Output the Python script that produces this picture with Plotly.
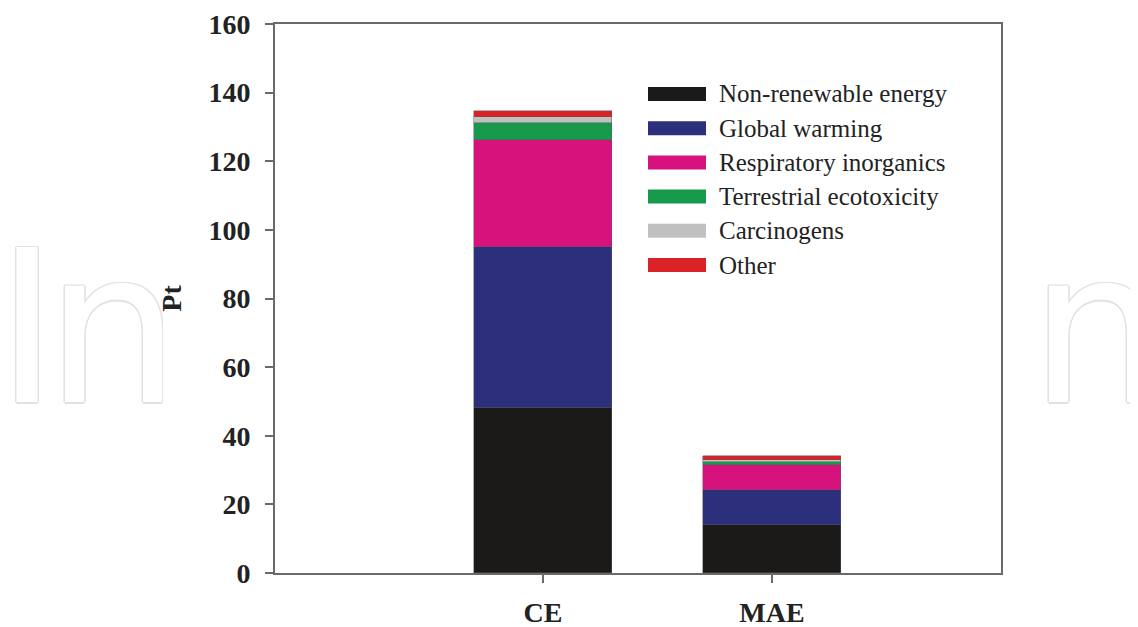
import plotly.graph_objects as go

categories = ["CE", "MAE"]
series_names = ["Non-renewable energy", "Global warming", "Respiratory inorganics",
                "Terrestrial ecotoxicity", "Carcinogens", "Other"]
non_renewable = [48.1, 14.0]
global_warming = [46.9, 10.2]
respiratory = [31.2, 7.3]
terrestrial = [4.9, 0.9]
carcinogens = [1.8, 0.4]
other = [1.8, 1.3]
series_values = [non_renewable, global_warming, respiratory, terrestrial, carcinogens, other]
colors = ["#1b1a19", "#2b2f7c", "#d7127d", "#16994b", "#c0c0c0", "#db2226"]
y_ticks = [0, 20, 40, 60, 80, 100, 120, 140, 160]

FONT = "Liberation Serif"
OFF = 8  # default page body margin
FIG_W, FIG_H = 1138 - OFF, 627 - OFF

fig = go.Figure()
x_idx = list(range(len(categories)))
for name, vals, col in zip(series_names, series_values, colors):
    fig.add_trace(go.Bar(x=x_idx, y=vals, name=name, width=0.6,
                         marker=dict(color=col, line=dict(color="rgba(90,90,90,0.6)", width=0.8)),
                         showlegend=False))

# plot area in screen pixels
L, R, T, B = 275, 1001, 24, 573
W, H = R - L, B - T
def px(x):
    return (x - L) / W
def py(y):
    return (B - y) / H

annotations = []
shadow = ", ".join(f"{dx}px {dy}px 0 #e2e2e2" for dx, dy in
                   [(1.5, 0), (-1.5, 0), (0, 1.5), (0, -1.5), (1, 1), (-1, -1), (1, -1), (-1, 1)])
wm_font = dict(family="DejaVu Sans", size=212, color="white", shadow=shadow)
for letter, cx, wd in [("I", 27, 40), ("n", 113, 100), ("n", 1097, 100)]:
    annotations.append(dict(xref="paper", yref="paper", x=px(cx), y=py(328),
                            xanchor="center", yanchor="middle", showarrow=False, text=letter,
                            width=wd, align="center", font=wm_font))

shapes = []
for i, (name, col) in enumerate(zip(series_names, colors)):
    cy = 94 + i * 34.2
    shapes.append(dict(type="rect", xref="paper", yref="paper",
                       x0=px(648), x1=px(706), y0=py(cy - 7), y1=py(cy + 7),
                       fillcolor=col, line=dict(width=0)))
    annotations.append(dict(xref="paper", yref="paper", x=px(717), y=py(cy),
                            xanchor="left", yanchor="middle", showarrow=False,
                            text=name, font=dict(family=FONT, size=25, color="#222")))

fig.update_layout(
    width=FIG_W, height=FIG_H,
    margin=dict(l=L - OFF, r=FIG_W - (R - OFF), t=T - OFF, b=FIG_H - (B - OFF)),
    paper_bgcolor="white", plot_bgcolor="white",
    barmode="stack", bargap=0,
    shapes=shapes, annotations=annotations,
    font=dict(family=FONT, color="#222"),
)
fig.update_xaxes(range=[-1.17, 2.0], tickvals=x_idx, ticktext=categories,
                 automargin=False,
                 showline=True, linecolor="#6a6a6a", linewidth=2, mirror=True,
                 ticks="outside", ticklen=8, tickwidth=1.5, tickcolor="#6a6a6a",
                 ticklabelstandoff=5,
                 tickfont=dict(family=FONT, size=28, color="#222", weight="bold"),
                 showgrid=False, zeroline=False)
fig.update_yaxes(range=[0, 160], tickvals=y_ticks, automargin=False,
                 showline=True, linecolor="#6a6a6a", linewidth=2, mirror=True,
                 ticks="outside", ticklen=8, tickwidth=1.5, tickcolor="#6a6a6a",
                 ticklabelstandoff=9,
                 tickfont=dict(family=FONT, size=28, color="#222", weight="bold"),
                 title=dict(text="Pt", standoff=19,
                            font=dict(family=FONT, size=28, color="#222", weight="bold")),
                 showgrid=False, zeroline=False)

fig.write_html("out.html")
